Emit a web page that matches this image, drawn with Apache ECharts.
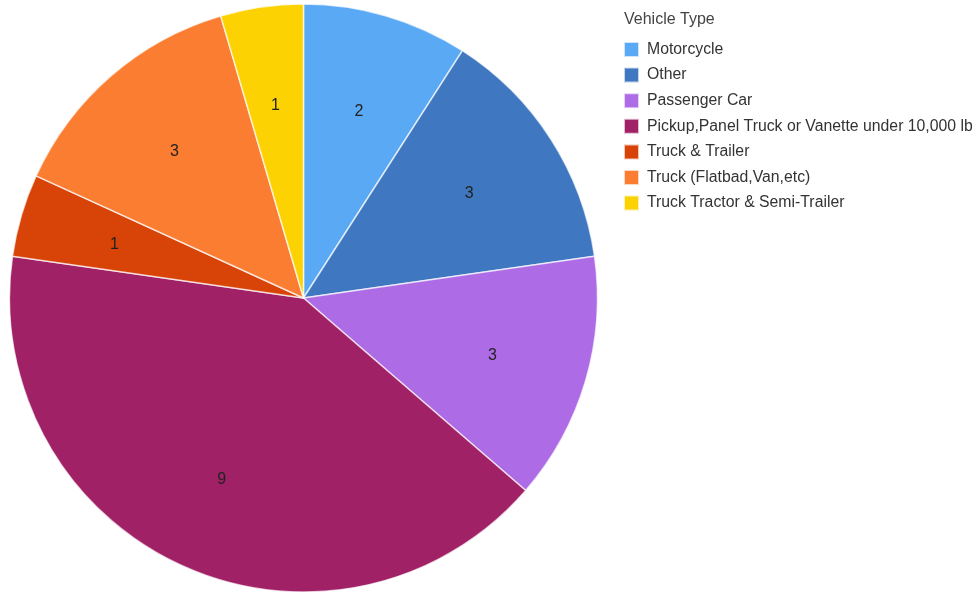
<!DOCTYPE html>
<html>
<head>
<meta charset="utf-8">
<script src="https://cdn.jsdelivr.net/npm/echarts@6/dist/echarts.min.js"></script>
<style>
  html, body { margin: 0; padding: 0; background: #fff; }
  #chart { width: 979px; height: 594px; }
</style>
</head>
<body>
<div id="chart"></div>
<script>
// Vehicle types involved, with counts
const categories = [
  'Motorcycle',
  'Other',
  'Passenger Car',
  'Pickup,Panel Truck or Vanette under 10,000 lb',
  'Truck & Trailer',
  'Truck (Flatbad,Van,etc)',
  'Truck Tractor & Semi-Trailer'
];
const counts = [2, 3, 3, 9, 1, 3, 1];
const colors = ['#5aa9f5', '#3f78c0', '#ad6be6', '#a12166', '#d84308', '#fb7d32', '#fcd202'];

const slices = categories.map((name, i) => ({ name, value: counts[i] }));

const chart = echarts.init(document.getElementById('chart'), null, { renderer: 'canvas' });
const center = [303.5, 298];
const R = 294;
const labelR = 194;
const font = 'Liberation Sans, Arial, sans-serif';

chart.setOption({
  animation: false,
  color: colors,
  title: {
    text: 'Vehicle Type',
    left: 619,
    top: 7,
    textStyle: { fontFamily: font, fontSize: 16, fontWeight: 'normal', color: '#444', lineHeight: 16 }
  },
  legend: {
    orient: 'vertical',
    left: 618,
    top: 36,
    itemWidth: 15,
    itemHeight: 15,
    itemGap: 8.6,
    icon: 'rect',
    data: categories,
    textStyle: { fontFamily: font, fontSize: 15.8, color: '#333', lineHeight: 16, padding: [0, 0, 0, 3] }
  },
  series: [
    {
      type: 'pie',
      center: center,
      radius: [0, R],
      startAngle: 90,
      clockwise: true,
      label: { show: false },
      labelLine: { show: false },
      itemStyle: { borderColor: 'rgba(255,255,255,0.7)', borderWidth: 1.5 },
      emphasis: { disabled: true },
      data: slices
    },
    {
      // transparent ring used only to place the value labels
      type: 'pie',
      center: center,
      radius: [2 * labelR - R, R],
      startAngle: 90,
      clockwise: true,
      silent: true,
      legendHoverLink: false,
      itemStyle: { color: 'rgba(0,0,0,0)', borderWidth: 0 },
      label: {
        show: true,
        position: 'inside',
        formatter: '{c}',
        fontFamily: font,
        fontSize: 16,
        color: '#222',
        offset: [0, 2.5]
      },
      labelLine: { show: false },
      emphasis: { disabled: true },
      data: slices.map(s => ({ name: s.name + ' ', value: s.value }))
    }
  ]
});
</script>
</body>
</html>
